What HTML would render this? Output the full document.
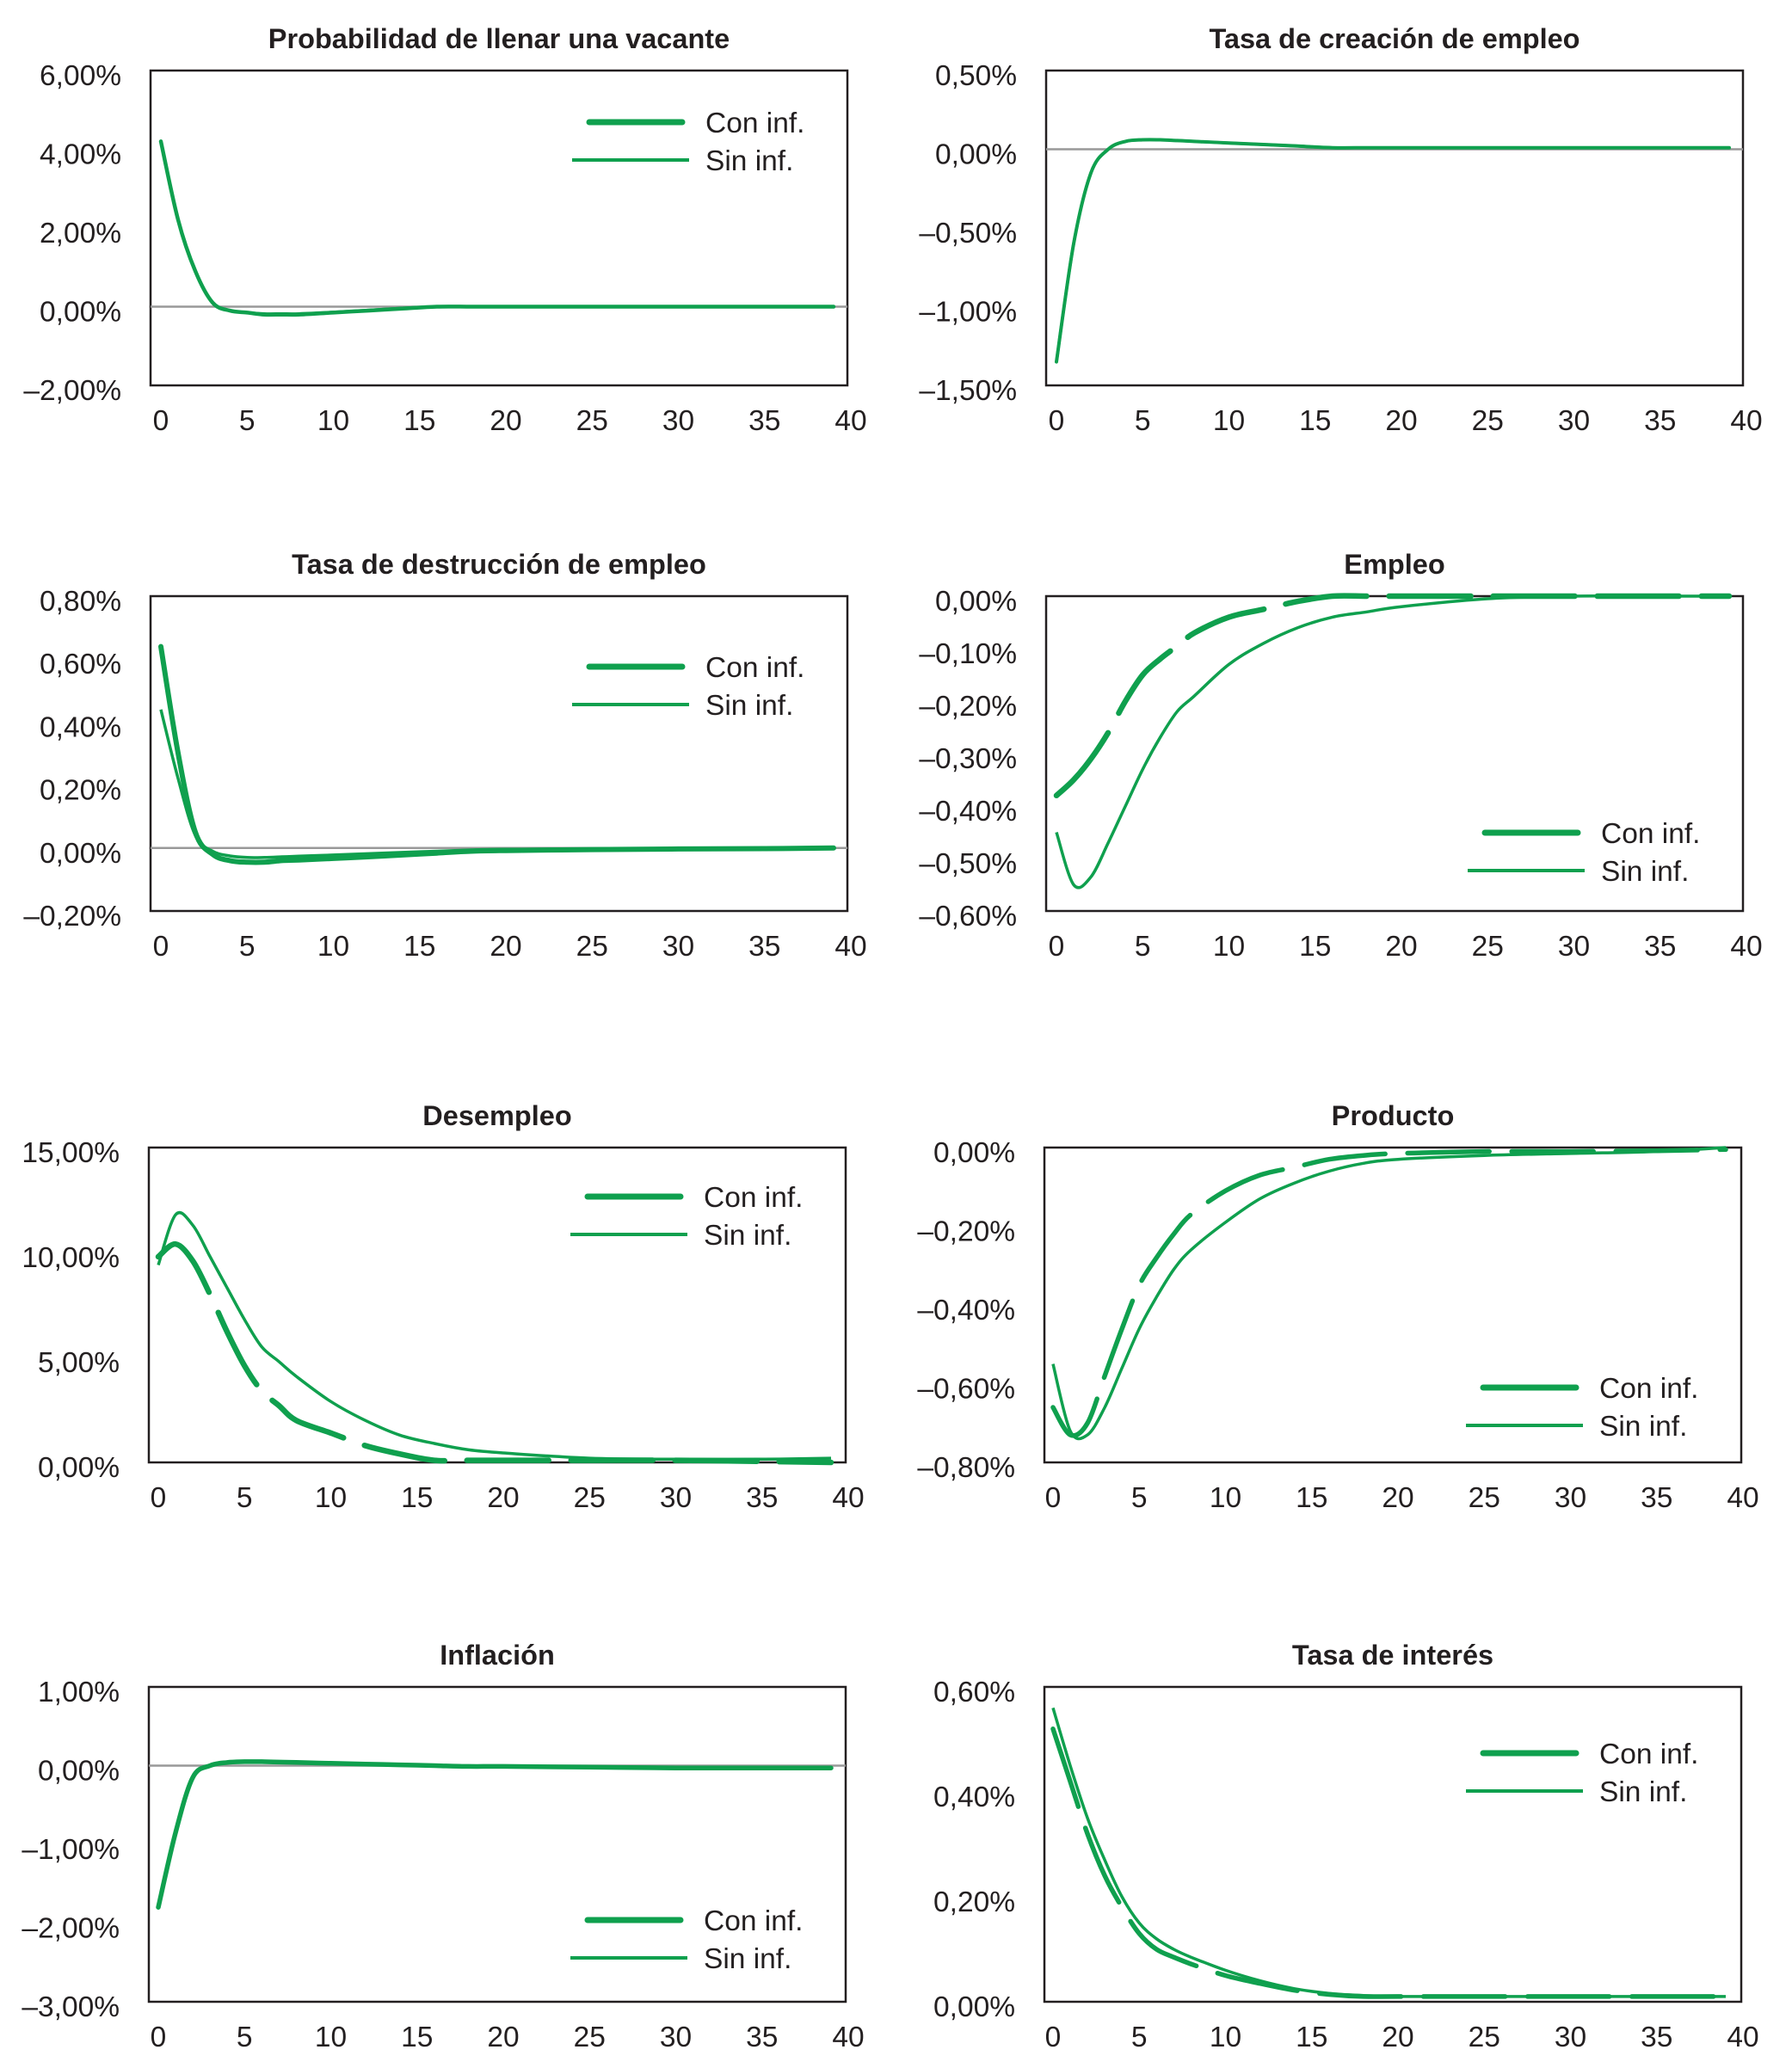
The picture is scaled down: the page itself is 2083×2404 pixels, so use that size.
<!DOCTYPE html>
<html><head><meta charset="utf-8"><style>
html,body{margin:0;padding:0;background:#fff;}
svg{display:block;}
text{font-family:"Liberation Sans",Arial,sans-serif;fill:#231f20;}
</style></head><body>
<svg id="chart" width="2083" height="2404" viewBox="0 0 2083 2404" xmlns="http://www.w3.org/2000/svg"></svg>
<script>
// Shared time periods (x data)
const periods = [0,1,2,3,4,5,6,7,8,10,12,14,16,18,20,25,30,35,39];
const xTicks = [0,5,10,15,20,25,30,35,40];

// Panel 1: Probabilidad de llenar una vacante
const p1Ticks = [6,4,2,0,-2];
const p1Con = [4.2,2.2,0.9,0.1,-0.1,-0.15,-0.2,-0.2,-0.2,-0.15,-0.1,-0.05,0,0,0,0,0,0,0];
const p1Sin = [4.2,2.2,0.9,0.1,-0.1,-0.15,-0.18,-0.18,-0.18,-0.14,-0.09,-0.04,0,0,0,0,0,0,0];
// Panel 2: Tasa de creación de empleo
const p2Ticks = [0.5,0,-0.5,-1,-1.5];
const p2Con = [-1.35,-0.6,-0.15,0,0.05,0.06,0.06,0.055,0.05,0.04,0.03,0.02,0.01,0.01,0.01,0.01,0.01,0.01,0.01];
const p2Sin = [-1.35,-0.6,-0.15,0,0.05,0.06,0.06,0.055,0.05,0.04,0.03,0.02,0.01,0.01,0.01,0.01,0.01,0.01,0.01];
// Panel 3: Tasa de destrucción de empleo
const p3Ticks = [0.8,0.6,0.4,0.2,0,-0.2];
const p3Con = [0.64,0.3,0.05,-0.02,-0.04,-0.045,-0.045,-0.04,-0.038,-0.033,-0.028,-0.022,-0.016,-0.01,-0.008,-0.005,-0.003,-0.002,0];
const p3Sin = [0.44,0.22,0.04,-0.01,-0.025,-0.03,-0.03,-0.028,-0.026,-0.022,-0.018,-0.014,-0.01,-0.006,-0.004,-0.003,-0.002,-0.001,0];
// Panel 4: Empleo
const p4Ticks = [0,-0.1,-0.2,-0.3,-0.4,-0.5,-0.6];
const p4Con = [-0.38,-0.35,-0.31,-0.26,-0.2,-0.15,-0.12,-0.095,-0.07,-0.04,-0.025,-0.01,0,0,0,0,0,0,0];
const p4Sin = [-0.45,-0.55,-0.535,-0.47,-0.4,-0.33,-0.27,-0.22,-0.19,-0.13,-0.09,-0.06,-0.04,-0.03,-0.02,-0.005,0,0,0];
// Panel 5: Desempleo
const p5Ticks = [15,10,5,0];
const p5Con = [9.8,10.4,9.6,8.0,6.2,4.6,3.4,2.7,2.0,1.4,0.8,0.4,0.1,0.1,0.1,0.1,0.1,0.05,0];
const p5Sin = [9.4,11.8,11.3,9.8,8.3,6.8,5.5,4.8,4.1,2.9,2.0,1.3,0.9,0.6,0.45,0.2,0.15,0.15,0.2];
// Panel 6: Producto
const p6Ticks = [0,-0.2,-0.4,-0.6,-0.8];
const p6Con = [-0.66,-0.73,-0.7,-0.58,-0.46,-0.35,-0.28,-0.22,-0.17,-0.11,-0.07,-0.05,-0.03,-0.02,-0.015,-0.01,-0.01,-0.008,-0.005];
const p6Sin = [-0.55,-0.72,-0.73,-0.66,-0.56,-0.46,-0.38,-0.31,-0.26,-0.19,-0.13,-0.09,-0.06,-0.04,-0.03,-0.02,-0.015,-0.01,0];
// Panel 7: Inflación
const p7Ticks = [1,0,-1,-2,-3];
const p7Con = [-1.8,-0.85,-0.15,0,0.04,0.05,0.05,0.045,0.04,0.03,0.02,0.01,0,-0.01,-0.01,-0.02,-0.03,-0.03,-0.03];
const p7Sin = [-1.8,-0.85,-0.15,0,0.04,0.05,0.05,0.045,0.04,0.03,0.02,0.01,0,-0.005,-0.01,-0.015,-0.02,-0.02,-0.02];
// Panel 8: Tasa de interés
const p8Ticks = [0.6,0.4,0.2,0];
const p8Con = [0.52,0.42,0.32,0.24,0.18,0.13,0.1,0.085,0.072,0.05,0.035,0.022,0.014,0.01,0.01,0.01,0.01,0.01,0.01];
const p8Sin = [0.56,0.45,0.35,0.27,0.2,0.15,0.12,0.1,0.085,0.06,0.04,0.025,0.016,0.012,0.01,0.01,0.01,0.01,0.01];

const NS = "http://www.w3.org/2000/svg";
const svg = document.getElementById('chart');
const GREEN = "#0fa04e";

function mk(tag, attrs, parent){
  const e = document.createElementNS(NS, tag);
  for (const k in attrs) e.setAttribute(k, attrs[k]);
  (parent||svg).appendChild(e);
  return e;
}
function fmt(v){
  const s = Math.abs(v).toFixed(2).replace('.', ',') + '%';
  return (v < 0 ? '\u2013' : '') + s;
}
// smooth path through points (Catmull-Rom -> Bezier)
function smooth(P){
  let d = 'M' + P[0][0].toFixed(1) + ',' + P[0][1].toFixed(1);
  for (let i = 0; i < P.length - 1; i++) {
    const p0 = P[i-1] || P[i], p1 = P[i], p2 = P[i+1], p3 = P[i+2] || P[i+1];
    const c1 = [p1[0] + (p2[0]-p0[0])/6, p1[1] + (p2[1]-p0[1])/6];
    const c2 = [p2[0] - (p3[0]-p1[0])/6, p2[1] - (p3[1]-p1[1])/6];
    d += ' C' + c1[0].toFixed(1) + ',' + c1[1].toFixed(1) + ' ' + c2[0].toFixed(1) + ',' + c2[1].toFixed(1) + ' ' + p2[0].toFixed(1) + ',' + p2[1].toFixed(1);
  }
  return d;
}

const panels = [
  {name:'probabilidad-vacante', title:'Probabilidad de llenar una vacante', L:175, T:82, x0:187, ticks:p1Ticks, con:p1Con, sin:p1Sin, leg:60, dash:false, zero:true, cw:4.5},
  {name:'tasa-creacion-empleo', title:'Tasa de creación de empleo', L:1216, T:82, x0:1228, ticks:p2Ticks, con:p2Con, sin:p2Sin, leg:null, dash:false, zero:true, cw:4},
  {name:'tasa-destruccion-empleo', title:'Tasa de destrucción de empleo', L:175, T:693, x0:187, ticks:p3Ticks, con:p3Con, sin:p3Sin, leg:82, dash:false, zero:true, cw:6},
  {name:'empleo', title:'Empleo', L:1216, T:693, x0:1228, ticks:p4Ticks, con:p4Con, sin:p4Sin, leg:275, dash:true, zero:false, cw:6.5},
  {name:'desempleo', title:'Desempleo', L:173, T:1334, x0:184, ticks:p5Ticks, con:p5Con, sin:p5Sin, leg:57, dash:true, zero:false, cw:6.5},
  {name:'producto', title:'Producto', L:1214, T:1334, x0:1224, ticks:p6Ticks, con:p6Con, sin:p6Sin, leg:279, dash:true, zero:false, cw:5.5},
  {name:'inflacion', title:'Inflación', L:173, T:1961, x0:184, ticks:p7Ticks, con:p7Con, sin:p7Sin, leg:271, dash:false, zero:true, cw:5.5},
  {name:'tasa-interes', title:'Tasa de interés', L:1214, T:1961, x0:1224, ticks:p8Ticks, con:p8Con, sin:p8Sin, leg:77, dash:true, zero:false, cw:5.5}
];

panels.forEach(p => {
  const W = 810, H = 366;
  const g = mk('g', {});
  
  
  const ymax = p.ticks[0], ymin = p.ticks[p.ticks.length-1];
  const X = t => p.x0 + t * 20.05;
  const Y = v => p.T + (ymax - v) / (ymax - ymin) * H;

  const title = mk('text', {x: p.L + W/2, y: p.T - 26, 'text-anchor':'middle', 'font-size':32.5, 'font-weight':'bold'}, g);
  title.textContent = p.title;
  
  

  const box = mk('rect', {x:p.L, y:p.T, width:W, height:H, fill:'#fff', stroke:'#231f20', 'stroke-width':2.5}, g);
  
  

  if (p.zero) {
    const z = mk('line', {x1:p.L, x2:p.L+W, y1:Y(0), y2:Y(0), stroke:'#999', 'stroke-width':2.5}, g);
    
    
  }

  p.ticks.forEach(v => {
    const t = mk('text', {x: p.L - 34, y: Y(v) + 17, 'text-anchor':'end', 'font-size':33.5}, g);
    t.textContent = fmt(v);
    
    
  });
  xTicks.forEach(v => {
    const t = mk('text', {x: X(v), y: p.T + H + 52, 'text-anchor':'middle', 'font-size':33.5}, g);
    t.textContent = v;
    
    
  });

  const pts = arr => periods.map((t,i) => [X(t), Y(arr[i])]);
  const sinL = mk('path', {d: smooth(pts(p.sin)), fill:'none', stroke:GREEN, 'stroke-width':3.5, 'stroke-linejoin':'round'}, g);
  
  
  const conAttrs = {d: smooth(pts(p.con)), fill:'none', stroke:GREEN, 'stroke-width':p.cw, 'stroke-linejoin':'round', 'stroke-linecap':'round'};
  if (p.dash) conAttrs['stroke-dasharray'] = '95 26';
  const conL = mk('path', conAttrs, g);
  
  

  if (p.leg !== null) {
    const ly = p.T + p.leg;
    const lg = mk('g', {}, g);
    
    
    const l1 = mk('line', {x1:p.L+510, x2:p.L+618, y1:ly, y2:ly, stroke:GREEN, 'stroke-width':7, 'stroke-linecap':'round'}, lg);
    
    
    const t1 = mk('text', {x:p.L+645, y:ly+12, 'font-size':33.5}, lg);
    t1.textContent = 'Con inf.';
    
    
    const l2 = mk('line', {x1:p.L+490, x2:p.L+626, y1:ly+44, y2:ly+44, stroke:GREEN, 'stroke-width':4}, lg);
    
    
    const t2 = mk('text', {x:p.L+645, y:ly+56, 'font-size':33.5}, lg);
    t2.textContent = 'Sin inf.';
    
    
  }
});
</script>
</body></html>
